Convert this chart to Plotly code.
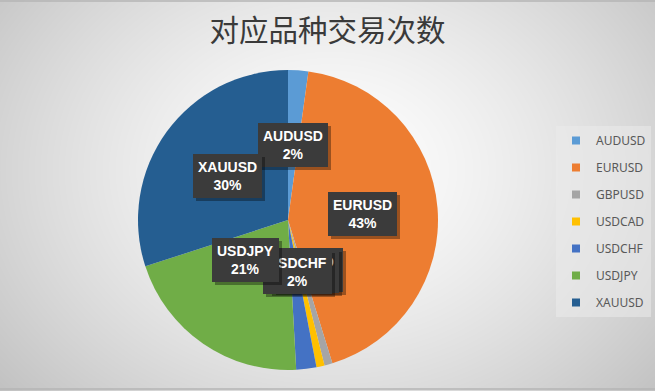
import base64, struct, zlib, math
import numpy as np
import plotly.graph_objects as go

# ---- data ----
labels = ["AUDUSD", "EURUSD", "GBPUSD", "USDCAD", "USDCHF", "USDJPY", "XAUUSD"]
counts = [5, 99, 2, 2, 5, 48, 69]
colors = ["#5B9BD5", "#ED7D31", "#A5A5A5", "#FFC000", "#4472C4", "#70AD47", "#255E91"]
title_text = "对应品种交易次数"

W, H = 655, 391

# ---- radial gradient background (generated PNG) ----
def png_gray(arr):
    h, w = arr.shape
    raw = b"".join(b"\x00" + arr[i].tobytes() for i in range(h))
    def chunk(t, d):
        return struct.pack(">I", len(d)) + t + d + struct.pack(">I", zlib.crc32(t + d) & 0xffffffff)
    ihdr = struct.pack(">IIBBBBB", w, h, 8, 0, 0, 0, 0)
    return b"\x89PNG\r\n\x1a\n" + chunk(b"IHDR", ihdr) + chunk(b"IDAT", zlib.compress(raw, 9)) + chunk(b"IEND", b"")

yy, xx = np.mgrid[0:H, 0:W].astype(float)
d = np.sqrt(((xx - 330) / 330) ** 2 + ((yy - 170) / 260) ** 2)
g = np.clip(255 - 42 * d ** 1.4, 0, 255).astype(np.uint8)
bg_src = "data:image/png;base64," + base64.b64encode(png_gray(g)).decode()

# ---- pie geometry (pixels) ----
cx, cy, R = 288, 220, 150
dom_x = [(cx - R) / W, (cx + R) / W]
dom_y = [1 - (cy + R) / H, 1 - (cy - R) / H]

fig = go.Figure()
fig.add_trace(go.Pie(
    labels=labels, values=counts, sort=False, direction="clockwise", rotation=0,
    marker=dict(colors=colors, line=dict(width=0)),
    textinfo="none", showlegend=False, domain=dict(x=dom_x, y=dom_y),
    hovertemplate="%{label}: %{value} (%{percent})<extra></extra>",
))

# legend via marker-only traces (allows item spacing)
for lab, col in zip(labels, colors):
    fig.add_trace(go.Scatter(
        x=[None], y=[None], mode="markers", name=lab, legendgroup=lab,
        marker=dict(symbol="square", size=8, color=col), hoverinfo="skip",
    ))

# ---- data labels (computed from slice mid-angles) ----
total = sum(counts)
cum = 0
for lab, v in zip(labels, counts):
    mid = (cum + v / 2) / total * 2 * math.pi
    cum += v
    px = cx + 0.5 * R * math.sin(mid)
    py = cy - 0.5 * R * math.cos(mid)
    pct = f"{round(v / total * 100)}%"
    txt = f"<b>{lab}</b><br><b>{pct}</b>"
    common = dict(x=px / W, y=1 - py / H, xref="paper", yref="paper", text=txt,
                  showarrow=False, borderpad=5, borderwidth=0)
    fig.add_annotation(**common, xshift=3, yshift=-3, bgcolor="rgba(0,0,0,0.35)",
                       font=dict(family="Liberation Sans, Arial", size=14, color="rgba(0,0,0,0)"))
    fig.add_annotation(**common, bgcolor="#3b3b3b",
                       font=dict(family="Liberation Sans, Arial", size=14, color="#ffffff"))

fig.update_layout(
    width=W, height=H,
    margin=dict(l=0, r=0, t=0, b=0),
    paper_bgcolor="#ffffff", plot_bgcolor="rgba(0,0,0,0)",
    title=dict(text=title_text, x=0.5, xanchor="center", y=1 - 31 / H, yanchor="middle",
               font=dict(family="Noto Sans CJK SC", size=29.5, color="#3a3a3a")),
    xaxis=dict(visible=False), yaxis=dict(visible=False),
    legend=dict(x=556 / W, y=1 - 126 / H, xanchor="left", yanchor="top",
                bgcolor="rgba(235,235,235,0.55)", tracegroupgap=8,
                font=dict(family="Noto Sans", size=12, color="#595959"),
                itemclick=False, itemdoubleclick=False),
    images=[dict(source=bg_src, xref="paper", yref="paper", x=0, y=1, sizex=1, sizey=1,
                 sizing="stretch", layer="below", xanchor="left", yanchor="top")],
    shapes=[
        dict(type="line", xref="paper", yref="paper", x0=0, x1=1, y0=1 - 1 / H, y1=1 - 1 / H,
             line=dict(color="#b5b5b5", width=1.5)),
        dict(type="line", xref="paper", yref="paper", x0=0, x1=1, y0=1 - 389 / H, y1=1 - 389 / H,
             line=dict(color="#b5b5b5", width=1.5)),
    ],
)

fig.write_html("out.html", config={"displayModeBar": False},
               post_script="document.body.style.margin='0';document.body.style.overflow='hidden';")
